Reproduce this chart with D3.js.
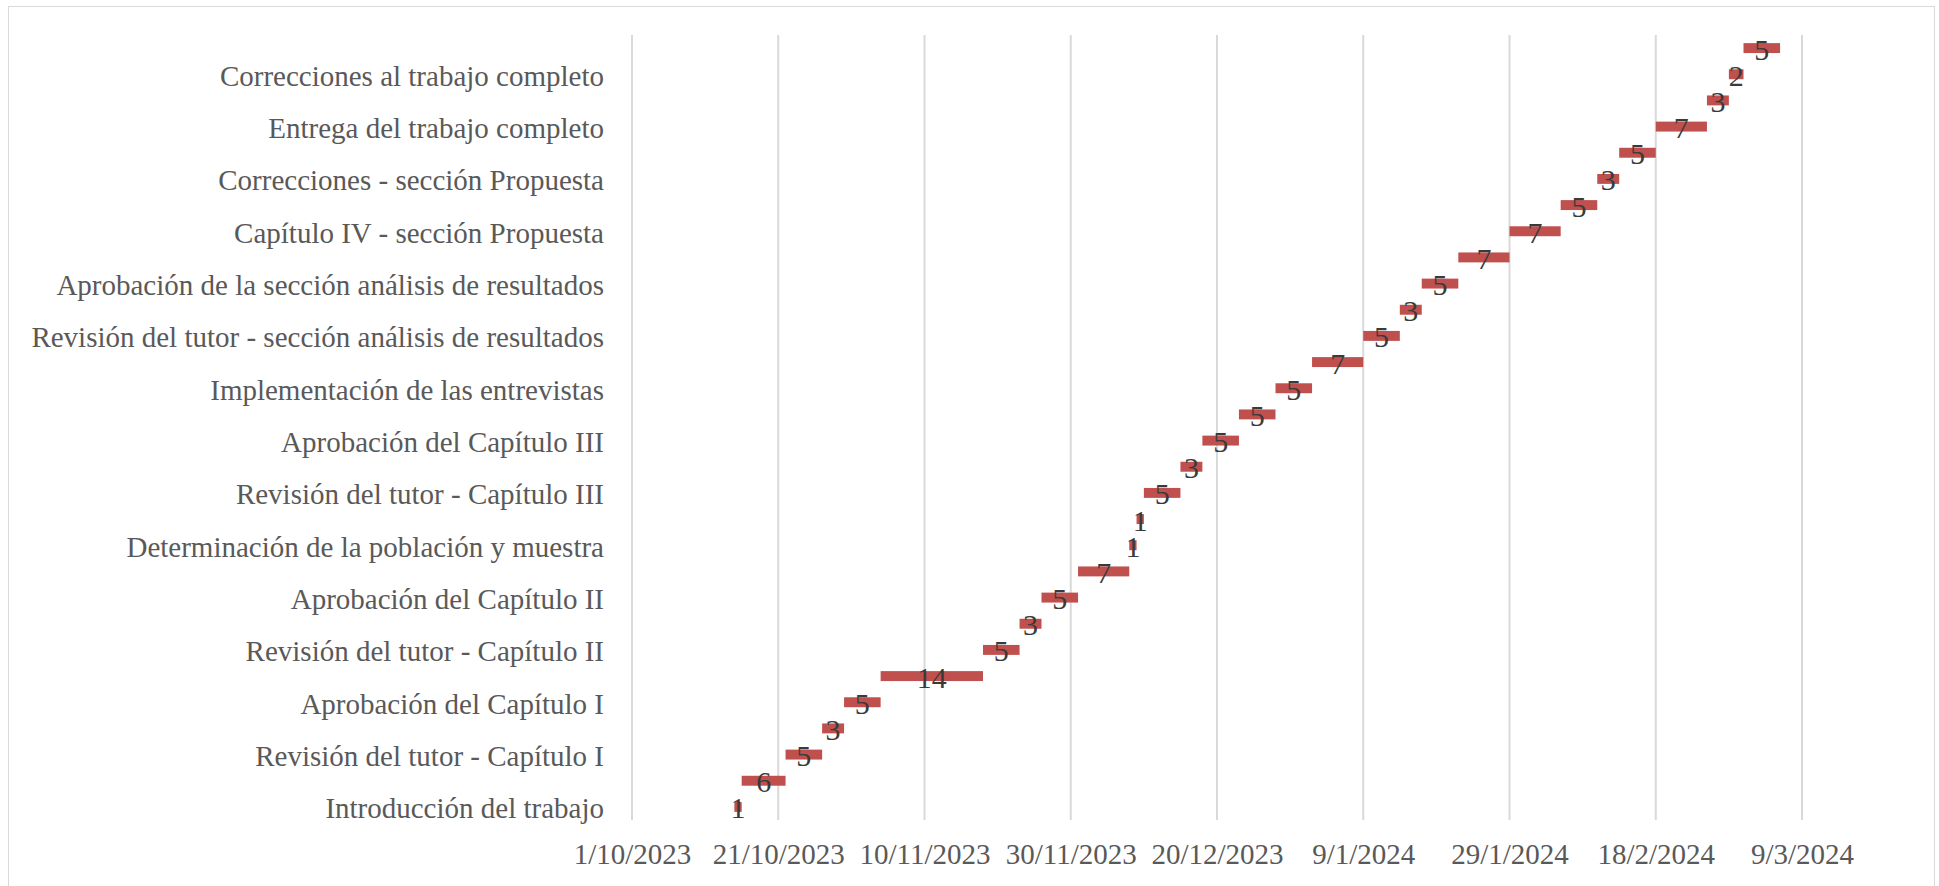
<!DOCTYPE html>
<html>
<head>
    <script src="https://d3js.org/d3.v7.min.js"></script>
    <style>
        body { margin: 0; background: white; }
        .grid line { stroke: #d9d9d9; stroke-width: 2px; }
        .bar { fill: #c0504d; }
    </style>
</head>
<body>
    <svg width="1939" height="886"></svg>
    <script>
        // Tasks, bottom to top (only every other name is printed on the axis)
        let tasks = [
            "Introducción del trabajo",
            "Capítulo I - Planteamiento del problema",
            "Revisión del tutor - Capítulo I",
            "Correcciones - Capítulo I",
            "Aprobación del Capítulo I",
            "Capítulo II - Marco teórico",
            "Revisión del tutor - Capítulo II",
            "Correcciones - Capítulo II",
            "Aprobación del Capítulo II",
            "Capítulo III - Marco metodológico",
            "Determinación de la población y muestra",
            "Elaboración de los instrumentos",
            "Revisión del tutor - Capítulo III",
            "Correcciones - Capítulo III",
            "Aprobación del Capítulo III",
            "Validación de los instrumentos",
            "Implementación de las entrevistas",
            "Análisis de resultados",
            "Revisión del tutor - sección análisis de resultados",
            "Correcciones - sección análisis de resultados",
            "Aprobación de la sección análisis de resultados",
            "Conclusiones y recomendaciones",
            "Capítulo IV - sección Propuesta",
            "Revisión del tutor - sección Propuesta",
            "Correcciones - sección Propuesta",
            "Aprobación de la sección Propuesta",
            "Entrega del trabajo completo",
            "Revisión del tutor - trabajo completo",
            "Correcciones al trabajo completo",
            "Entrega final"
        ];

        let startDates = [
            "15/10/2023", "16/10/2023", "22/10/2023", "27/10/2023", "30/10/2023",
            "4/11/2023", "18/11/2023", "23/11/2023", "26/11/2023", "1/12/2023",
            "8/12/2023", "9/12/2023", "10/12/2023", "15/12/2023", "18/12/2023",
            "23/12/2023", "28/12/2023", "2/1/2024", "9/1/2024", "14/1/2024",
            "17/1/2024", "22/1/2024", "29/1/2024", "5/2/2024", "10/2/2024",
            "13/2/2024", "18/2/2024", "25/2/2024", "28/2/2024", "1/3/2024"
        ];

        let durations = [1, 6, 5, 3, 5, 14, 5, 3, 5, 7, 1, 1, 5, 3, 5,
                         5, 5, 7, 5, 3, 5, 7, 7, 5, 3, 5, 7, 3, 2, 5];

        let tickLabels = ["1/10/2023", "21/10/2023", "10/11/2023", "30/11/2023", "20/12/2023",
                          "9/1/2024", "29/1/2024", "18/2/2024", "9/3/2024"];

        let serif = "'Liberation Serif', 'Times New Roman', serif";
        let parse = d3.utcParse("%d/%m/%Y");
        let fmt = d3.utcFormat("%-d/%-m/%Y");
        let dayMs = 24 * 3600 * 1000;

        let data = tasks.map((t, i) => ({
            task: t,
            start: parse(startDates[i]),
            end: new Date(parse(startDates[i]).getTime() + durations[i] * dayMs),
            days: durations[i]
        }));
        let ticks = tickLabels.map(parse);

        let svg = d3.select("svg");

        // outer chart border
        svg.append("rect")
            .attr("x", 8.5).attr("y", 6.5)
            .attr("width", 1926).attr("height", 900)
            .attr("fill", "none").attr("stroke", "#d9d9d9");

        let plotL = 632, plotR = 1802, plotT = 35, plotB = 820;

        let x = d3.scaleUtc()
            .domain([ticks[0], ticks[ticks.length - 1]])
            .range([plotL, plotR]);

        let y = d3.scaleBand()
            .domain(tasks.slice().reverse())
            .range([plotT, plotB]);

        let barH = y.bandwidth() * 0.38;

        svg.append("g").attr("class", "grid")
            .selectAll("line")
            .data(ticks)
            .enter().append("line")
            .attr("x1", d => x(d)).attr("x2", d => x(d))
            .attr("y1", plotT).attr("y2", plotB);

        svg.append("g")
            .attr("transform", `translate(0,${plotB})`)
            .call(d3.axisBottom(x).tickValues(ticks).tickFormat(fmt).tickSize(0).tickPadding(23))
            .call(g => g.select(".domain").remove())
            .attr("font-family", serif).attr("font-size", 29)
            .selectAll("text").attr("fill", "#595959");

        svg.append("g")
            .attr("transform", `translate(${plotL},2)`)
            .call(d3.axisLeft(y).tickValues(tasks.filter((t, i) => i % 2 === 0)).tickSize(0).tickPadding(28))
            .call(g => g.select(".domain").remove())
            .attr("font-family", serif).attr("font-size", 29)
            .selectAll("text").attr("fill", "#595959");

        svg.append("g").selectAll("rect")
            .data(data)
            .enter().append("rect")
            .attr("class", "bar")
            .attr("x", d => x(d.start))
            .attr("width", d => x(d.end) - x(d.start))
            .attr("y", d => y(d.task) + y.bandwidth() / 2 - barH / 2)
            .attr("height", barH);

        svg.append("g")
            .attr("font-family", serif).attr("font-size", 30)
            .attr("text-anchor", "middle").attr("fill", "#3a3a3a")
            .selectAll("text")
            .data(data)
            .enter().append("text")
            .attr("x", d => (x(d.start) + x(d.end)) / 2)
            .attr("y", d => y(d.task) + y.bandwidth() / 2 + 1)
            .attr("dy", "0.35em")
            .text(d => d.days);
    </script>
</body>
</html>
